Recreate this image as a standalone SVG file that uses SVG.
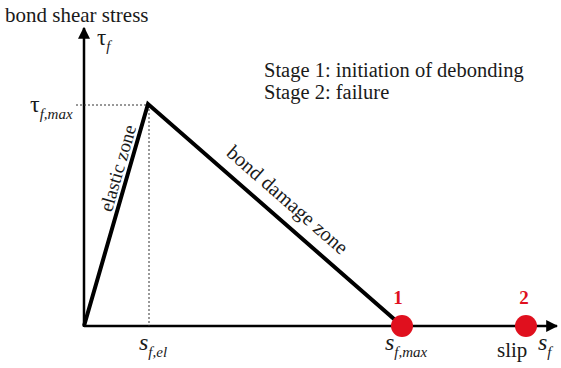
<svg xmlns="http://www.w3.org/2000/svg" width="561" height="368" viewBox="0 0 561 368" font-family="'Liberation Serif', 'Times New Roman', serif">
<style>
text{font-family:"Liberation Serif","Times New Roman",serif;fill:#1a1a1a;font-size:19px}
.it{font-style:italic}
.sub{font-size:15px;font-style:italic}
.big{font-size:24px;font-style:italic}
.red{fill:#e0101e;font-weight:bold;font-size:19px}
.dash{stroke:#333;stroke-width:1;stroke-dasharray:2,2;fill:none}
</style>
<defs>
<marker id="ah" viewBox="0 0 10 10" refX="9" refY="5" markerWidth="12" markerHeight="12" markerUnits="userSpaceOnUse" orient="auto">
<path d="M0,0 L10,5 L0,10 z" fill="#000"/>
</marker>
</defs>
<g id="connectors">
<line x1="84" y1="327" x2="84" y2="28" stroke="#000" stroke-width="2.5" marker-end="url(#ah)"/>
<line x1="84" y1="326" x2="557" y2="326" stroke="#000" stroke-width="2.5" marker-end="url(#ah)"/>
<line class="dash" x1="76" y1="105" x2="148" y2="105"/>
<line class="dash" x1="149" y1="105" x2="149" y2="326"/>
<polyline points="84,326 148,104 402,326" fill="none" stroke="#000" stroke-width="4" stroke-linejoin="miter"/>
</g>
<g id="axis-labels">
<text x="5" y="22" style="font-size:21px">bond shear stress</text>
<text x="97" y="45" style="font-size:23px">τ<tspan class="sub" dy="6">f</tspan></text>
<text x="30" y="112" style="font-size:24px">τ<tspan class="sub" dy="7">f,max</tspan></text>
<text x="139" y="350" class="big">s<tspan class="sub" dy="7">f,el</tspan></text>
<text x="385" y="350" class="big">s<tspan class="sub" dy="7">f,max</tspan></text>
<text x="497" y="357" style="font-size:21px">slip</text>
<text x="538" y="350" class="big">s<tspan class="sub" dy="7">f</tspan></text>
</g>
<g id="legend">
<text x="264" y="77" style="font-size:20.5px">Stage 1: initiation of debonding</text>
<text x="264" y="99" style="font-size:20.5px">Stage 2: failure</text>
</g>
<g id="zone-labels">
<text x="0" y="0" text-anchor="middle" transform="translate(124,170) rotate(-73.9)">elastic zone</text>
<text x="0" y="0" text-anchor="middle" style="font-size:20.5px" transform="translate(283,205) rotate(41.2)">bond damage zone</text>
</g>
<g id="stage1">
<circle cx="402" cy="326" r="11" fill="#e0101e"/>
<text x="398" y="304" class="red" text-anchor="middle">1</text>
</g>
<g id="stage2">
<circle cx="526" cy="326" r="11" fill="#e0101e"/>
<text x="524" y="304" class="red" text-anchor="middle">2</text>
</g>
</svg>
